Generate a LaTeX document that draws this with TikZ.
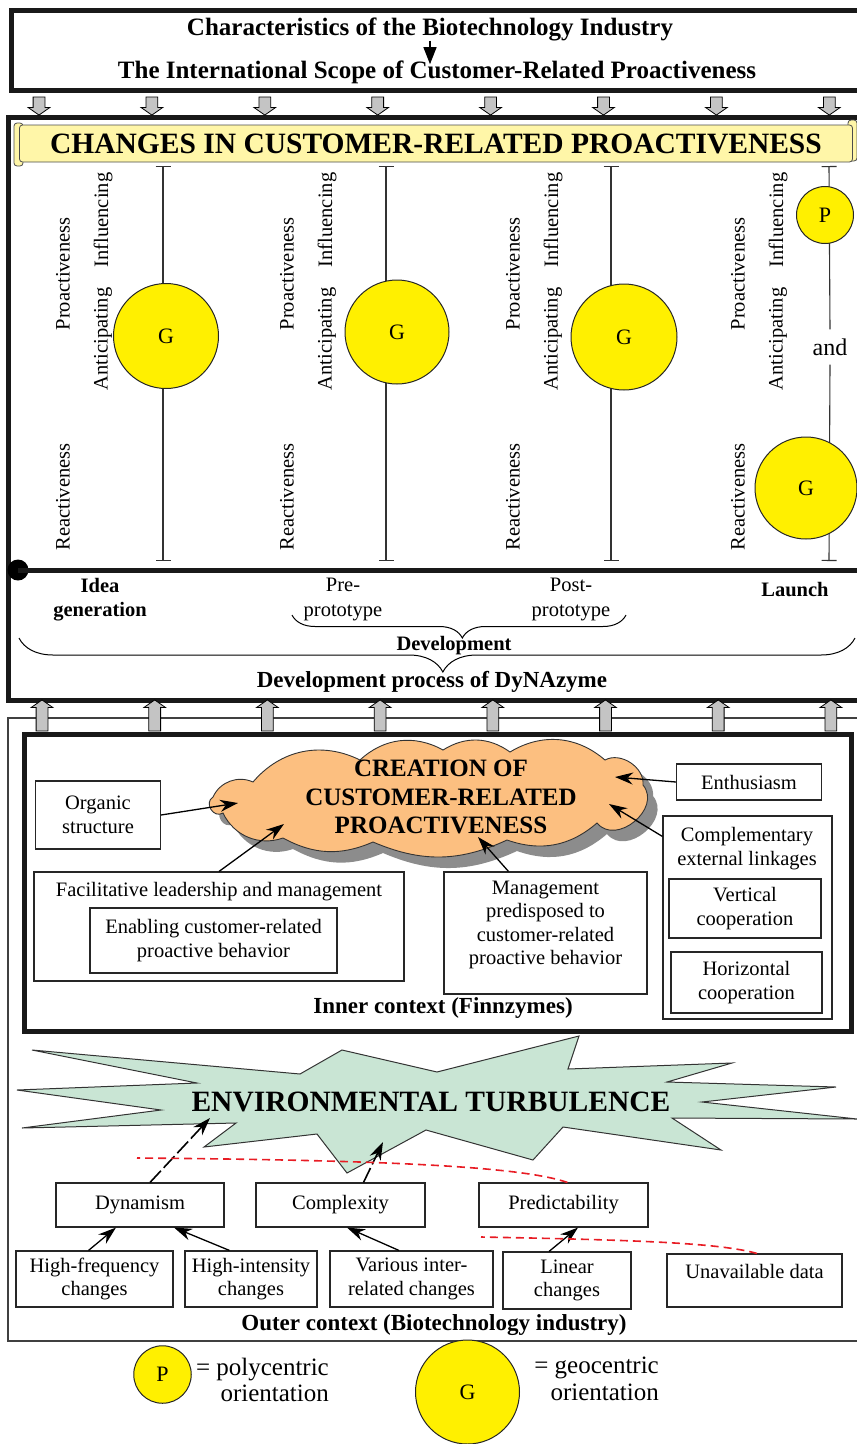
\documentclass[tikz,border=0pt]{standalone}
\usepackage{fontspec}
\setmainfont{Liberation Serif}
\usepackage{tikz}
\usetikzlibrary{shapes}
\usetikzlibrary{arrows}
\usetikzlibrary{arrows.meta}
\usetikzlibrary{positioning}
\usetikzlibrary{shadows}
\usetikzlibrary{decorations.pathreplacing}

\definecolor{gyellow}{RGB}{255,240,0}
\definecolor{scrollyellow}{RGB}{255,246,168}
\definecolor{cloudorange}{RGB}{252,191,128}
\definecolor{stargreen}{RGB}{201,229,212}
\definecolor{blockgrey}{RGB}{196,196,196}
\definecolor{dashred}{RGB}{232,28,36}

\begin{document}
\begin{tikzpicture}[x=1pt,y=-1pt]
\useasboundingbox (0,0) rectangle (857,1444);
%styles
\tikzstyle{bigframe}=[draw=black!90,line width=5pt]
\tikzstyle{thinframe}=[draw=black!75,line width=1.4pt]
\tikzstyle{titletext}=[font=\fontsize{25}{30}\selectfont\bfseries,inner sep=0pt]
\tikzstyle{blockdown}=[
        single arrow,
        draw,
        fill=blockgrey,
        line width=0.8pt,
        single arrow tip angle=110,
        single arrow head extend=5pt,
        inner xsep=0pt,
        inner ysep=5.5pt,
        minimum height=18pt,
        rotate=-90
]
\tikzstyle{blockup}=[blockdown,minimum height=31pt,rotate=180]
\tikzstyle{banner}=[rectangle,draw=black!70,line width=0.8pt,rounded corners=3pt,
fill=scrollyellow,minimum width=833pt,minimum height=37pt,inner sep=0pt,
font=\fontsize{29.5}{34}\selectfont\bfseries]
\tikzstyle{scrollend}=[draw=black!70,line width=0.8pt,rounded corners=3pt,fill=scrollyellow]
\tikzstyle{rotlab}=[rotate=90,inner sep=0pt,font=\fontsize{20.5}{24}\selectfont]
\tikzstyle{gcirc}=[circle,draw=black!85,line width=1pt,fill=gyellow,inner sep=0pt,
font=\fontsize{22}{26}\selectfont]
\tikzstyle{colline}=[draw=black!80,line width=1.1pt]
\tikzstyle{ticks}=[{Bar[width=15pt]}-{Bar[width=15pt]}]
\tikzstyle{boldlab}=[align=center,inner sep=0pt,font=\fontsize{20.5}{24.5}\selectfont\bfseries]
\tikzstyle{plainlab}=[align=center,inner sep=0pt,font=\fontsize{20.5}{24.5}\selectfont]
\tikzstyle{ctxlab}=[inner sep=0pt,font=\fontsize{23}{27}\selectfont\bfseries]
\tikzstyle{brc}=[decorate,line width=1pt]
\tikzstyle{ctxbox}=[rectangle,draw=black!85,line width=1.1pt,align=center,inner sep=0pt,
font=\fontsize{20.5}{23.5}\selectfont]
\tikzstyle{cloudfill}=[draw=black!80,line width=0.9pt,fill=cloudorange,
drop shadow={shadow xshift=10pt,shadow yshift=-11pt,fill=black!45,opacity=1}]
\tikzstyle{bigtext}=[align=center,inner sep=0pt,font=\fontsize{25}{28.5}\selectfont\bfseries]
\tikzstyle{arr}=[-{Stealth[length=18pt,width=12pt]},line width=1.3pt]
\tikzstyle{dasharr}=[arr,line width=1.6pt,dash pattern=on 16pt off 4pt]
\tikzstyle{starfill}=[draw=black!80,line width=1pt,fill=stargreen,line join=miter]
\tikzstyle{reddash}=[dashred,line width=1.6pt,dash pattern=on 8pt off 5pt]
\tikzstyle{legtext}=[align=right,inner sep=0pt,font=\fontsize{25}{26.5}\selectfont]
%frames
\draw[bigframe] (11,10) rectangle (880,90);
\draw[bigframe] (8,117) rectangle (880,700);
\draw[thinframe] (8,718) rectangle (880,1341);
\draw[bigframe] (24.5,734) rectangle (851,1031);
\foreach \i in {0,...,7}{
  \node[blockdown] (down\i) at (39+112.9*\i,104) {};
  \node[blockup] (up\i) at (42+112.7*\i,717.5) {};
}
%top
\node[titletext,anchor=base] (title) at (430,35) {Characteristics of the Biotechnology Industry};
\node[titletext,anchor=base] (scope) at (437,78) {The International Scope of Customer-Related Proactiveness};
\draw[-{Triangle[length=17pt,width=13pt]},line width=1.2pt,shorten >=-4pt] (title.south) -- (title.south |- scope.north);
%banner
\draw[scrollend] (14,123) rectangle (23,166);
\draw[scrollend] (848,120) rectangle (857,161);
\node[banner] (banner) at (436,143.5) {CHANGES IN CUSTOMER-RELATED PROACTIVENESS};
%columns
\foreach \i/\lx/\cx in {1/63/163,2/287/386,3/513/611,4/738/829}{
  \node[rotlab] (pro\i) at (\lx,274) {Proactiveness};
  \node[rotlab] (inf\i) at (\lx+40,220) {Influencing};
  \node[rotlab] (ant\i) at (\lx+40,339) {Anticipating};
  \node[rotlab] (rea\i) at (\lx,497) {Reactiveness};
  \coordinate (top\i) at (\cx,166);
  \coordinate (bot\i) at (\cx,561);
}
\node[inner sep=9pt,font=\fontsize{24}{28}\selectfont] (and4) at (830,347) {and};
\foreach \i in {1,2,3}
  \draw[colline,ticks] (top\i) -- (bot\i);
\draw[colline,{Bar[width=15pt]}-] (top4) -- (and4.north);
\draw[colline,-{Bar[width=15pt]}] (and4.south) -- (bot4);
\node[gcirc,minimum size=105pt] (g1) at (166,336) {G};
\node[gcirc,minimum size=104pt] (g2) at (397,332) {G};
\node[gcirc,minimum size=106pt] (g3) at (624,337) {G};
\node[gcirc,minimum size=57pt] (p4) at (825,215) {P};
\node[gcirc,minimum size=102pt] (g4) at (806,488) {G};
%timeline
\coordinate (tlend) at (880,570);
\node[circle,fill=black,minimum size=21pt,inner sep=0pt] (origin) at (18,570) {};
\draw[line width=5pt,black!90] (origin.center) -- (tlend);
\node[boldlab] (idea) at (100,599.5) {Idea\\generation};
\node[plainlab] (pre) at (343,599.5) {Pre-\\prototype};
\node[plainlab] (post) at (571,599.5) {Post-\\prototype};
\node[boldlab] (launch) at (795,590) {Launch};
\coordinate (devR) at (626,615);
\coordinate (devL) at (292,615);
\draw[brc,decoration={brace,amplitude=23pt,aspect=0.49}] (devR) -- (devL);
\node[boldlab] (dev) at (454,646) {Development};
\coordinate (procR) at (855,638);
\coordinate (procL) at (19,638);
\draw[brc,decoration={brace,amplitude=34pt,aspect=0.493}] (procR) -- (procL);
\node[ctxlab] (process) at (432,682) {Development process of DyNAzyme};
%inner context
\draw[cloudfill] (213,797) to[bend left=45] (253,782) to[bend left=38] (360,760)
  to[bend left=36] (443,750) to[bend left=34] (510,752) to[bend left=36] (605,760)
  to[bend left=62] (643,785) to[bend left=90,looseness=1.3] (597,823)
  to[bend left=30] (507,840) to[bend left=24] (373,842) to[bend left=26] (283,838)
  to[bend left=42] (223,813) to[bend left=90,looseness=1.5] (213,797) -- cycle;
\node[bigtext] (creation) at (441,797) {CREATION OF\\CUSTOMER-RELATED\\PROACTIVENESS};
\node[ctxbox,minimum width=125pt,minimum height=68pt] (organic) at (98,815) {Organic\\structure};
\node[ctxbox,minimum width=145pt,minimum height=36pt] (enthus) at (749,782) {Enthusiasm};
\node[ctxbox,minimum width=169pt,minimum height=203pt] (compl) at (747.5,917.5) {};
\node[plainlab,font=\fontsize{20.5}{23.5}\selectfont] (compltxt) at (747,848.5) {Complementary\\external linkages};
\node[ctxbox,minimum width=152pt,minimum height=59pt] (vert) at (745,908.5) {Vertical\\cooperation};
\node[ctxbox,minimum width=151pt,minimum height=61pt] (horiz) at (746.5,982.5) {Horizontal\\cooperation};
\node[ctxbox,minimum width=370pt,minimum height=109pt] (facil) at (219,926.5) {};
\node[plainlab] (faciltxt) at (219,892) {Facilitative leadership and management};
\node[ctxbox,minimum width=247pt,minimum height=65pt] (enabling) at (213.5,940.5) {Enabling customer-related\\proactive behavior};
\node[ctxbox,minimum width=203pt,minimum height=122pt,text depth=20pt] (mgmt) at (545.5,933) {Management\\predisposed to\\customer-related\\proactive behavior};
\node[ctxlab] (inner) at (443,1008) {Inner context (Finnzymes)};
\coordinate (torg) at (238,803);
\coordinate (tfac) at (284,824);
\coordinate (tmgm) at (478,837);
\coordinate (tcom) at (609,804);
\coordinate (tent) at (615,777);
\draw[arr] (organic.east) -- (torg);
\draw[arr] (facil.north) -- (tfac);
\draw[arr] ([xshift=-37pt]mgmt.north) -- (tmgm);
\draw[arr] ([yshift=-21pt]compl.north west) -- (tcom);
\draw[arr] (enthus.west) -- (tent);
%outer context
\draw[starfill] (32,1050) -- (300,1074) -- (342,1050) -- (437,1072) -- (579,1036)
  -- (568,1069) -- (732,1063) -- (667,1082) -- (836,1087) -- (702,1102)
  -- (857,1119) -- (672,1118) -- (721,1150) -- (563,1127) -- (533,1160)
  -- (426,1130) -- (347,1173) -- (317,1134) -- (204,1147) -- (236,1123)
  -- (22,1128) -- (161,1110) -- (17,1090) -- (197,1083) -- cycle;
\node[inner sep=0pt,font=\fontsize{29.5}{34}\selectfont\bfseries] (turb) at (431,1102) {ENVIRONMENTAL TURBULENCE};
\node[ctxbox,minimum width=168pt,minimum height=44pt] (dyn) at (140,1205) {Dynamism};
\node[ctxbox,minimum width=169pt,minimum height=44pt] (cx) at (340.5,1205) {Complexity};
\node[ctxbox,minimum width=169pt,minimum height=44pt] (pred) at (563.5,1205) {Predictability};
\node[ctxbox,minimum width=157pt,minimum height=56pt] (hf) at (94.5,1279) {High-frequency\\changes};
\node[ctxbox,minimum width=132pt,minimum height=56pt] (hi) at (251,1279) {High-intensity\\changes};
\node[ctxbox,minimum width=163pt,minimum height=56pt] (var) at (411.5,1279) {Various inter-\\related changes};
\node[ctxbox,minimum width=128pt,minimum height=57pt] (lin) at (567,1280.5) {Linear\\changes};
\node[ctxbox,minimum width=175pt,minimum height=53pt,text depth=18pt] (unav) at (754.5,1280.5) {Unavailable data};
\node[ctxlab] (outer) at (434,1325) {Outer context (Biotechnology industry)};
\coordinate (tdyn) at (210,1118);
\coordinate (tcx) at (383,1142);
\draw[dasharr] ([xshift=10pt]dyn.north) -- (tdyn);
\draw[dasharr] ([xshift=23pt]cx.north) -- (tcx);
\draw[arr] ([xshift=-6pt]hf.north) -- ([xshift=-24pt]dyn.south);
\draw[arr] ([xshift=-21.5pt]hi.north) -- ([xshift=34pt]dyn.south);
\draw[arr] ([xshift=-12.5pt]var.north) -- ([xshift=6.5pt]cx.south);
\draw[arr] ([xshift=-18pt]lin.north) -- ([xshift=14.5pt]pred.south);
\coordinate (rd1) at (137,1158);
\coordinate (rd2) at (481,1237);
\draw[reddash] ([xshift=4pt]pred.north) .. controls (520,1166) and (380,1160) .. (rd1);
\draw[reddash] ([xshift=2.5pt]unav.north) .. controls (720,1243) and (640,1240) .. (rd2);
%legend
\node[gcirc,minimum size=57.5pt] (legp) at (162.5,1374.5) {P};
\node[legtext,anchor=east] (legptxt) at (329,1380) {= polycentric\\orientation};
\node[gcirc,minimum size=104pt] (legg) at (467.5,1392) {G};
\node[legtext,anchor=east] (leggtxt) at (659,1379) {= geocentric\\orientation};
\end{tikzpicture}
\end{document}
